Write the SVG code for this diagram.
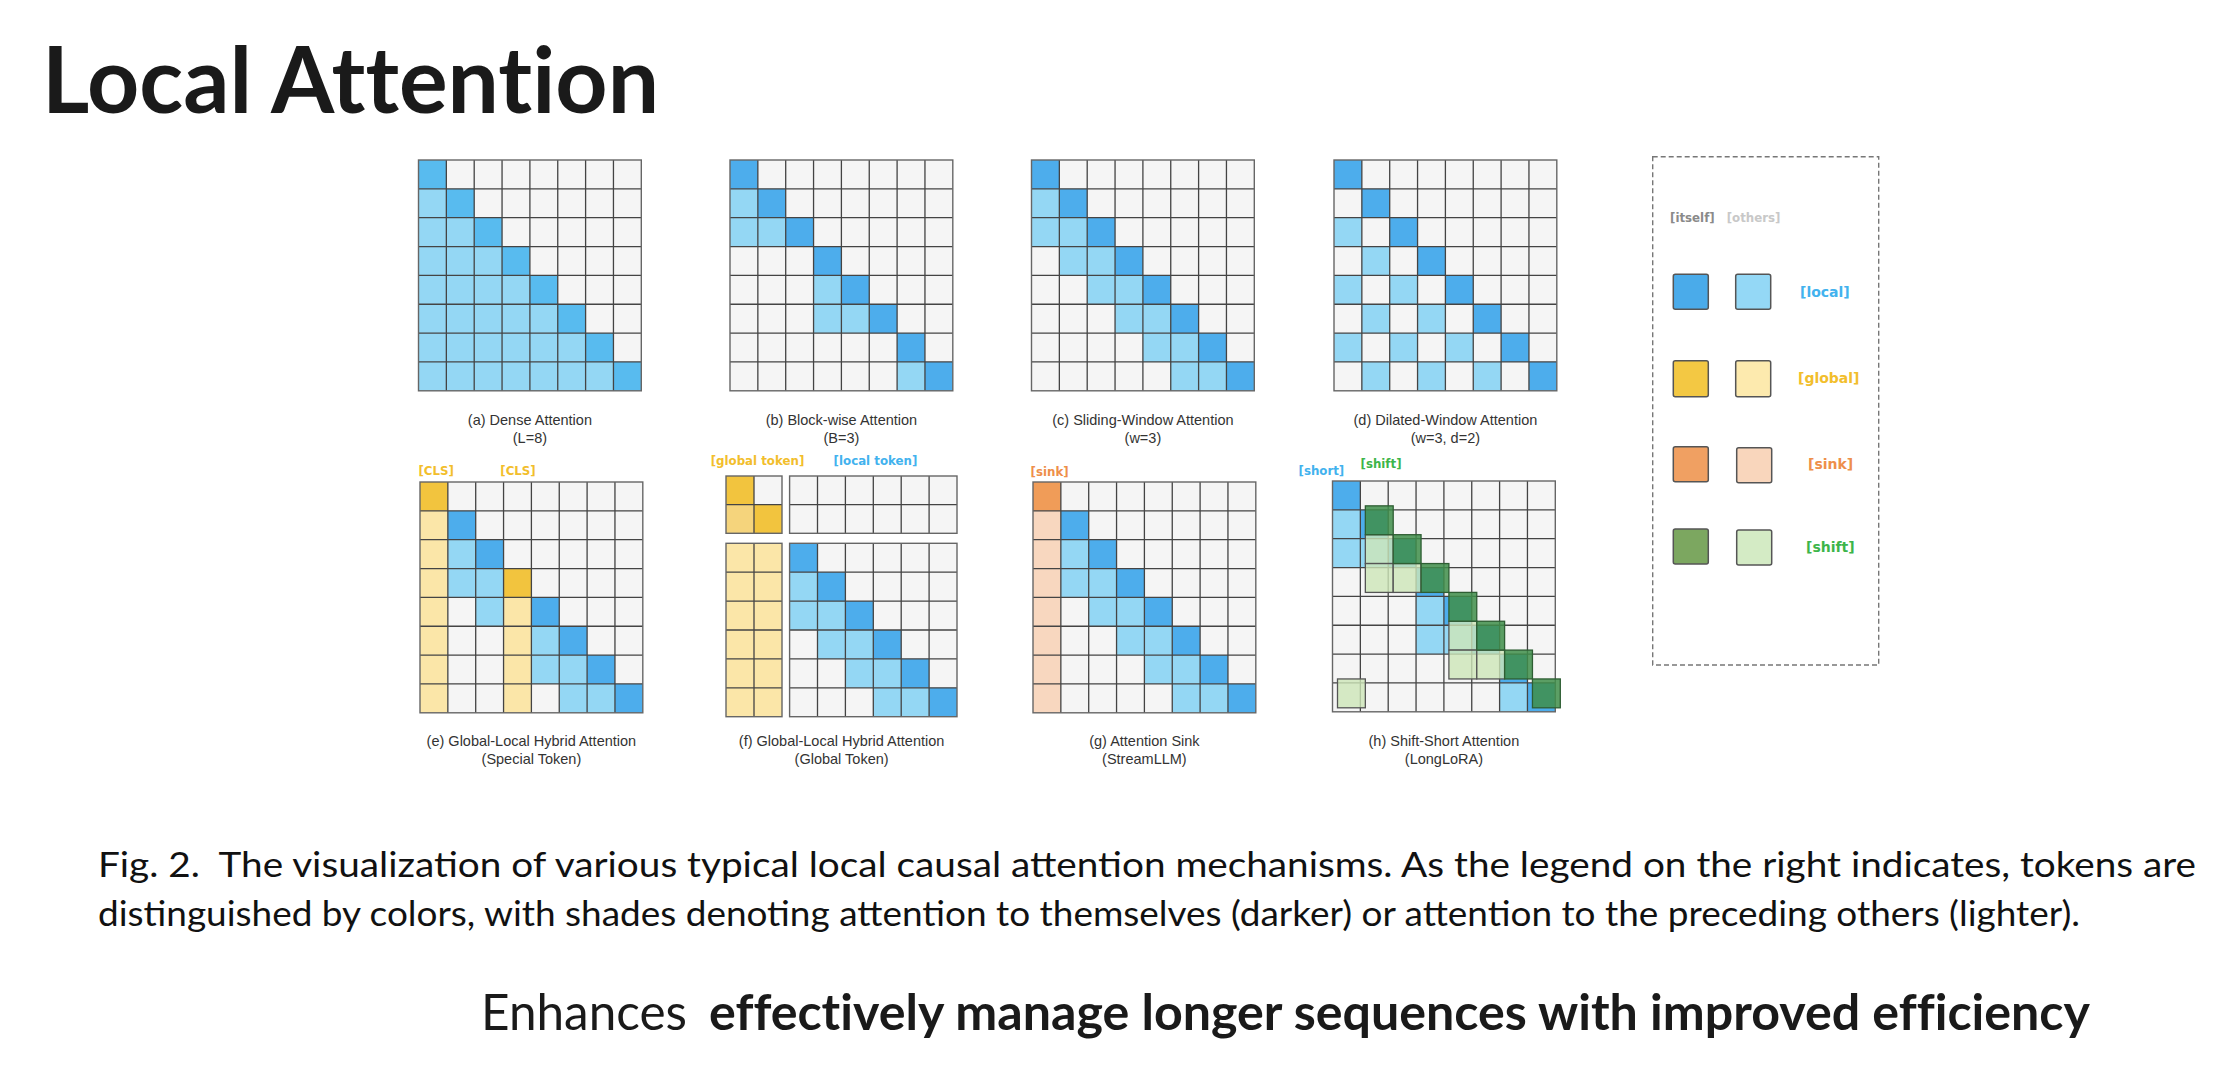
<svg xmlns="http://www.w3.org/2000/svg" xmlns:xlink="http://www.w3.org/1999/xlink" width="2222" height="1072" viewBox="0 0 2222 1072">
<style>
.wc{fill:#F5F5F5}
.ob{fill:none;stroke:#666;stroke-width:1.4}
.gl{fill:none;stroke:#444;stroke-width:1.3}
.db{fill:#4DADEC}
.lb{fill:#94D7F4}
.dy{fill:#F2C43E}
.ly{fill:#FBE6A8}
.my{fill:#F5D47C}
.do{fill:#F09C58}
.lo{fill:#F8D7BF}
.dg{fill:#3F8E4A;fill-opacity:.85;stroke:#2E5E33;stroke-width:1.3}
.lg{fill:#CDE6B8;fill-opacity:.8;stroke:#555;stroke-width:1.3}
.cap{font-family:"Liberation Sans",Arial,sans-serif;font-size:14.5px;fill:#333;text-anchor:middle}
.br{font-family:"DejaVu Sans",sans-serif;font-weight:bold;font-size:11.8px}
.lgt{font-family:"DejaVu Sans",sans-serif;font-weight:bold;font-size:14px}
.cy{fill:#F2BE2C}.cb{fill:#42B2EE}.co{fill:#EE8F4A}.cg{fill:#3DB54A}
.sq{stroke:#555;stroke-width:1.5}
.nolig{font-variant-ligatures:none}
</style>
<defs>
<rect id="bg8" width="222.8" height="230.8" class="wc"/>
<g id="ln8"><path class="gl" d="M27.85 0V230.8M55.7 0V230.8M83.55 0V230.8M111.4 0V230.8M139.25 0V230.8M167.1 0V230.8M194.95 0V230.8M0 28.85H222.8M0 57.7H222.8M0 86.55H222.8M0 115.4H222.8M0 144.25H222.8M0 173.1H222.8M0 201.95H222.8"/><rect width="222.8" height="230.8" class="ob"/></g>
<g id="diag"><rect x="0" y="0" width="27.85" height="28.85"/><rect x="27.85" y="28.85" width="27.85" height="28.85"/><rect x="55.7" y="57.7" width="27.85" height="28.85"/><rect x="83.55" y="86.55" width="27.85" height="28.85"/><rect x="111.4" y="115.4" width="27.85" height="28.85"/><rect x="139.25" y="144.25" width="27.85" height="28.85"/><rect x="167.1" y="173.1" width="27.85" height="28.85"/><rect x="194.95" y="201.95" width="27.85" height="28.85"/></g>
</defs>
<rect width="2222" height="1072" fill="#fff"/>
<text class="nolig" x="42" y="113" font-family="Lato,'Noto Sans',sans-serif" font-weight="bold" font-size="91" fill="#1a1a1a" textLength="617" lengthAdjust="spacingAndGlyphs">Local Attention</text>

<g id="fig-a" transform="translate(418.5,160)">
<use href="#bg8"/>
<g class="lb"><rect x="0" y="28.85" width="27.85" height="28.85"/><rect x="0" y="57.7" width="55.7" height="28.85"/><rect x="0" y="86.55" width="83.55" height="28.85"/><rect x="0" y="115.4" width="111.4" height="28.85"/><rect x="0" y="144.25" width="139.25" height="28.85"/><rect x="0" y="173.1" width="167.1" height="28.85"/><rect x="0" y="201.95" width="194.95" height="28.85"/></g>
<use href="#diag" fill="#58BBEF"/>
<use href="#ln8"/>
<text class="cap" x="111.4" y="265">(a) Dense Attention</text>
<text class="cap" x="111.4" y="283">(L=8)</text>
</g>

<g id="fig-b" transform="translate(730,160)">
<use href="#bg8"/>
<g class="lb"><rect x="0" y="28.85" width="27.85" height="28.85"/><rect x="0" y="57.7" width="55.7" height="28.85"/><rect x="83.55" y="115.4" width="27.85" height="28.85"/><rect x="83.55" y="144.25" width="55.7" height="28.85"/><rect x="167.1" y="201.95" width="27.85" height="28.85"/></g>
<use href="#diag" fill="#4DADEC"/>
<use href="#ln8"/>
<text class="cap" x="111.4" y="265">(b) Block-wise Attention</text>
<text class="cap" x="111.4" y="283">(B=3)</text>
</g>

<g id="fig-c" transform="translate(1031.5,160)">
<use href="#bg8"/>
<g class="lb"><rect x="0" y="28.85" width="27.85" height="28.85"/><rect x="0" y="57.7" width="55.7" height="28.85"/><rect x="27.85" y="86.55" width="55.7" height="28.85"/><rect x="55.7" y="115.4" width="55.7" height="28.85"/><rect x="83.55" y="144.25" width="55.7" height="28.85"/><rect x="111.4" y="173.1" width="55.7" height="28.85"/><rect x="139.25" y="201.95" width="55.7" height="28.85"/></g>
<use href="#diag" fill="#4DADEC"/>
<use href="#ln8"/>
<text class="cap" x="111.4" y="265">(c) Sliding-Window Attention</text>
<text class="cap" x="111.4" y="283">(w=3)</text>
</g>

<g id="fig-d" transform="translate(1334,160)">
<use href="#bg8"/>
<g class="lb"><rect x="0" y="57.7" width="27.85" height="28.85"/><rect x="27.85" y="86.55" width="27.85" height="28.85"/><rect x="0" y="115.4" width="27.85" height="28.85"/><rect x="55.7" y="115.4" width="27.85" height="28.85"/><rect x="27.85" y="144.25" width="27.85" height="28.85"/><rect x="83.55" y="144.25" width="27.85" height="28.85"/><rect x="0" y="173.1" width="27.85" height="28.85"/><rect x="55.7" y="173.1" width="27.85" height="28.85"/><rect x="111.4" y="173.1" width="27.85" height="28.85"/><rect x="27.85" y="201.95" width="27.85" height="28.85"/><rect x="83.55" y="201.95" width="27.85" height="28.85"/><rect x="139.25" y="201.95" width="27.85" height="28.85"/></g>
<use href="#diag" fill="#4DADEC"/>
<use href="#ln8"/>
<text class="cap" x="111.4" y="265">(d) Dilated-Window Attention</text>
<text class="cap" x="111.4" y="283">(w=3, d=2)</text>
</g>

<g id="fig-e" transform="translate(420,482)">
<use href="#bg8"/>
<rect class="dy" x="0" y="0" width="27.85" height="28.85"/>
<rect class="ly" x="0" y="28.85" width="27.85" height="201.95"/>
<rect class="dy" x="83.55" y="86.55" width="27.85" height="28.85"/>
<rect class="ly" x="83.55" y="115.4" width="27.85" height="115.4"/>
<g class="db"><rect x="27.85" y="28.85" width="27.85" height="28.85"/><rect x="55.7" y="57.7" width="27.85" height="28.85"/><rect x="111.4" y="115.4" width="27.85" height="28.85"/><rect x="139.25" y="144.25" width="27.85" height="28.85"/><rect x="167.1" y="173.1" width="27.85" height="28.85"/><rect x="194.95" y="201.95" width="27.85" height="28.85"/></g>
<g class="lb"><rect x="27.85" y="57.7" width="27.85" height="28.85"/><rect x="27.85" y="86.55" width="55.7" height="28.85"/><rect x="55.7" y="115.4" width="27.85" height="28.85"/><rect x="111.4" y="144.25" width="27.85" height="28.85"/><rect x="111.4" y="173.1" width="55.7" height="28.85"/><rect x="139.25" y="201.95" width="55.7" height="28.85"/></g>
<use href="#ln8"/>
<text class="br cy" x="-1.6" y="-7">[CLS]</text>
<text class="br cy" x="80.3" y="-7">[CLS]</text>
<text class="cap" x="111.4" y="264">(e) Global-Local Hybrid Attention</text>
<text class="cap" x="111.4" y="282">(Special Token)</text>
</g>

<g id="fig-f">
<g transform="translate(726,476)">
<rect width="56" height="57.3" class="wc"/>
<rect class="dy" x="0" y="0" width="28" height="28.65"/>
<rect class="my" x="0" y="28.65" width="28" height="28.65"/>
<rect class="dy" x="28" y="28.65" width="28" height="28.65"/>
<path class="gl" d="M28 0V57.3M0 28.65H56"/>
<rect width="56" height="57.3" class="ob"/>
</g>
<g transform="translate(789.6,476)">
<rect width="167.4" height="57.3" class="wc"/>
<path class="gl" d="M27.9 0V57.3M55.8 0V57.3M83.7 0V57.3M111.6 0V57.3M139.5 0V57.3M0 28.65H167.4"/>
<rect width="167.4" height="57.3" class="ob"/>
</g>
<g transform="translate(726,543.3)">
<rect width="56" height="173.4" class="ly"/>
<path class="gl" d="M28 0V173.4M0 28.9H56M0 57.8H56M0 86.7H56M0 115.6H56M0 144.5H56"/>
<rect width="56" height="173.4" class="ob"/>
</g>
<g transform="translate(789.6,543.3)">
<rect width="167.4" height="173.4" class="wc"/>
<g class="lb"><rect x="0" y="28.9" width="27.9" height="28.9"/><rect x="0" y="57.8" width="55.8" height="28.9"/><rect x="27.9" y="86.7" width="55.8" height="28.9"/><rect x="55.8" y="115.6" width="55.8" height="28.9"/><rect x="83.7" y="144.5" width="55.8" height="28.9"/></g>
<g class="db"><rect x="0" y="0" width="27.9" height="28.9"/><rect x="27.9" y="28.9" width="27.9" height="28.9"/><rect x="55.8" y="57.8" width="27.9" height="28.9"/><rect x="83.7" y="86.7" width="27.9" height="28.9"/><rect x="111.6" y="115.6" width="27.9" height="28.9"/><rect x="139.5" y="144.5" width="27.9" height="28.9"/></g>
<path class="gl" d="M27.9 0V173.4M55.8 0V173.4M83.7 0V173.4M111.6 0V173.4M139.5 0V173.4M0 28.9H167.4M0 57.8H167.4M0 86.7H167.4M0 115.6H167.4M0 144.5H167.4"/>
<rect width="167.4" height="173.4" class="ob"/>
</g>
<text class="br cy" x="710.7" y="465">[global token]</text>
<text class="br cb" x="833.6" y="465">[local token]</text>
<text class="cap" x="841.6" y="746">(f) Global-Local Hybrid Attention</text>
<text class="cap" x="841.6" y="764">(Global Token)</text>
</g>

<g id="fig-g" transform="translate(1033,482)">
<use href="#bg8"/>
<rect class="do" x="0" y="0" width="27.85" height="28.85"/>
<rect class="lo" x="0" y="28.85" width="27.85" height="201.95"/>
<g class="lb"><rect x="27.85" y="57.7" width="27.85" height="28.85"/><rect x="27.85" y="86.55" width="55.7" height="28.85"/><rect x="55.7" y="115.4" width="55.7" height="28.85"/><rect x="83.55" y="144.25" width="55.7" height="28.85"/><rect x="111.4" y="173.1" width="55.7" height="28.85"/><rect x="139.25" y="201.95" width="55.7" height="28.85"/></g>
<g class="db"><rect x="27.85" y="28.85" width="27.85" height="28.85"/><rect x="55.7" y="57.7" width="27.85" height="28.85"/><rect x="83.55" y="86.55" width="27.85" height="28.85"/><rect x="111.4" y="115.4" width="27.85" height="28.85"/><rect x="139.25" y="144.25" width="27.85" height="28.85"/><rect x="167.1" y="173.1" width="27.85" height="28.85"/><rect x="194.95" y="201.95" width="27.85" height="28.85"/></g>
<use href="#ln8"/>
<text class="br co" x="-2.4" y="-6">[sink]</text>
<text class="cap" x="111.4" y="264">(g) Attention Sink</text>
<text class="cap" x="111.4" y="282">(StreamLLM)</text>
</g>

<g id="fig-h" transform="translate(1332.5,481)">
<use href="#bg8"/>
<g class="lb"><rect x="0" y="28.85" width="27.85" height="28.85"/><rect x="0" y="57.7" width="55.7" height="28.85"/><rect x="83.55" y="115.4" width="27.85" height="28.85"/><rect x="83.55" y="144.25" width="55.7" height="28.85"/><rect x="167.1" y="201.95" width="27.85" height="28.85"/></g>
<use href="#diag" fill="#4DADEC"/>
<use href="#ln8"/>
<g class="lg"><rect x="32.85" y="53.7" width="27.85" height="28.85"/><rect x="32.85" y="82.55" width="27.85" height="28.85"/><rect x="60.7" y="82.55" width="27.85" height="28.85"/><rect x="116.4" y="140.25" width="27.85" height="28.85"/><rect x="116.4" y="169.1" width="27.85" height="28.85"/><rect x="144.25" y="169.1" width="27.85" height="28.85"/><rect x="5" y="197.95" width="27.85" height="28.85"/></g>
<g class="dg"><rect x="32.85" y="24.85" width="27.85" height="28.85"/><rect x="60.7" y="53.7" width="27.85" height="28.85"/><rect x="88.55" y="82.55" width="27.85" height="28.85"/><rect x="116.4" y="111.4" width="27.85" height="28.85"/><rect x="144.25" y="140.25" width="27.85" height="28.85"/><rect x="172.1" y="169.1" width="27.85" height="28.85"/><rect x="199.95" y="197.95" width="27.85" height="28.85"/></g>
<text class="br cb" x="-34" y="-6">[short]</text>
<text class="br cg" x="28" y="-13">[shift]</text>
<text class="cap" x="111.4" y="265">(h) Shift-Short Attention</text>
<text class="cap" x="111.4" y="283">(LongLoRA)</text>
</g>

<g id="legend">
<rect x="1652.7" y="156.7" width="226" height="508.3" fill="none" stroke="#777" stroke-width="1.4" stroke-dasharray="5 3"/>
<text class="br" x="1670" y="222" fill="#8a8a8a" font-size="12">[itself]</text>
<text class="br" x="1726.7" y="222" fill="#c8c8c8" font-size="12">[others]</text>
<rect class="sq" x="1673.3" y="274.3" width="35" height="35" rx="2" fill="#4AABEA"/>
<rect class="sq" x="1735.7" y="274.3" width="35" height="35" rx="2" fill="#94D8F6"/>
<text class="lgt cb" x="1800" y="297">[local]</text>
<rect class="sq" x="1673.3" y="360.7" width="35" height="36" rx="2" fill="#F3C843"/>
<rect class="sq" x="1735.7" y="360.7" width="35" height="36" rx="2" fill="#FDEAAE"/>
<text class="lgt cy" x="1798" y="383">[global]</text>
<rect class="sq" x="1673.3" y="446.7" width="35" height="35" rx="2" fill="#F0A062"/>
<rect class="sq" x="1736.7" y="447.7" width="35" height="35" rx="2" fill="#F9D6BC"/>
<text class="lgt co" x="1808" y="469">[sink]</text>
<rect class="sq" x="1673.3" y="529" width="35" height="35" rx="2" fill="#7CA760"/>
<rect class="sq" x="1736.7" y="530" width="35" height="35" rx="2" fill="#D4EBC5"/>
<text class="lgt cg" x="1806" y="552">[shift]</text>
</g>

<g id="caption" font-family="Lato,'Noto Sans',sans-serif" font-size="35" fill="#111">
<text x="98" y="877" textLength="2098" lengthAdjust="spacingAndGlyphs">Fig. 2.&#160; The visualization of various typical local causal attention mechanisms. As the legend on the right indicates, tokens are</text>
<text x="98" y="926" textLength="1982" lengthAdjust="spacingAndGlyphs">distinguished by colors, with shades denoting attention to themselves (darker) or attention to the preceding others (lighter).</text>
</g>

<g id="summary" class="nolig" font-family="Lato,'Noto Sans',sans-serif" font-size="50" fill="#1a1a1a">
<text x="481" y="1030" textLength="206" lengthAdjust="spacingAndGlyphs">Enhances</text>
<text x="709" y="1030" font-weight="bold" textLength="1381" lengthAdjust="spacingAndGlyphs">effectively manage longer sequences with improved efficiency</text>
</g>
</svg>
